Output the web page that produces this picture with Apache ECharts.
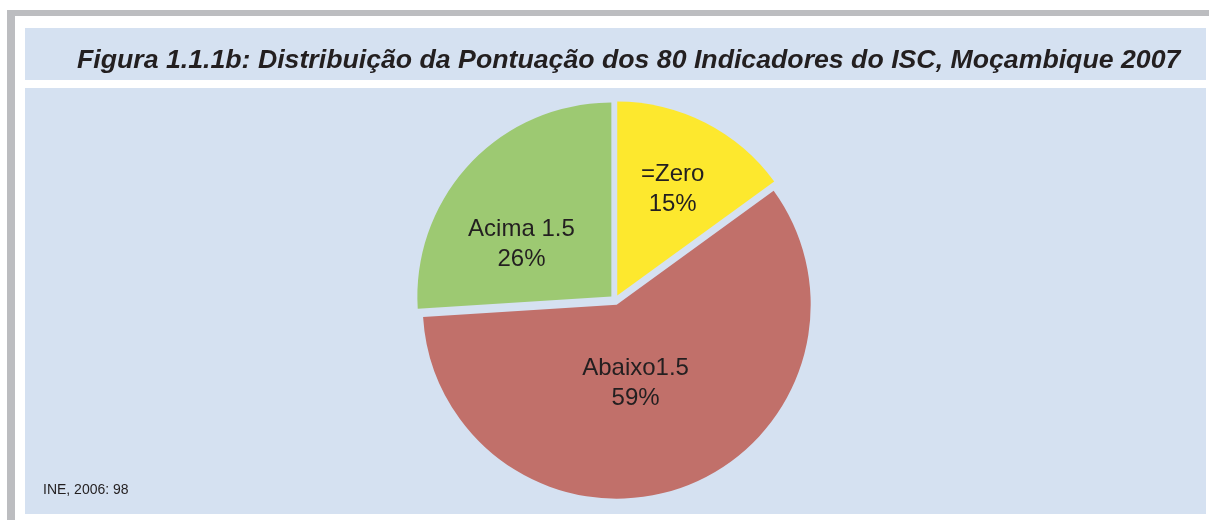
<!DOCTYPE html>
<html>
<head>
<meta charset="utf-8">
<script src="https://cdn.jsdelivr.net/npm/echarts@6/dist/echarts.min.js"></script>
<style>
  html, body { margin: 0; padding: 0; background: #fff; }
  #piechart { width: 1209px; height: 520px; }
</style>
</head>
<body>
<div id="piechart"></div>
<script>
// dados da figura (percentagens)
const categories = ['=Zero', 'Abaixo1.5', 'Acima 1.5']
const values = [15, 59, 26]
const colors = ['#fde82e', '#c1706a', '#9dc972']
// deslocamento do rótulo dentro de cada fatia
const labelOffsets = [[10, -17], [-15, -15], [-17, 16]]

const panelColor = '#d5e1f1'
const frameColor = '#bcbdc0'

const chart = echarts.init(document.getElementById('piechart'))

const option = {
  animation: false,
  title: {
    text: 'Figura 1.1.1b: Distribuição da Pontuação dos 80 Indicadores do ISC, Moçambique 2007',
    left: 72,
    top: 42,
    textStyle: {
      fontFamily: 'Liberation Sans',
      fontStyle: 'italic',
      fontWeight: 'bold',
      fontSize: 26.7,
      color: '#231f20'
    }
  },
  graphic: [
    // moldura cinzenta
    { type: 'rect', z: -10, shape: { x: 7, y: 10, width: 1202, height: 6 }, style: { fill: frameColor } },
    { type: 'rect', z: -10, shape: { x: 7, y: 10, width: 8, height: 510 }, style: { fill: frameColor } },
    // caixa do título
    { type: 'rect', z: -10, shape: { x: 25, y: 28, width: 1181, height: 52 }, style: { fill: panelColor } },
    // área do gráfico
    { type: 'rect', z: -10, shape: { x: 25, y: 88, width: 1181, height: 426 }, style: { fill: panelColor } },
    {
      type: 'text',
      left: 43,
      top: 483,
      style: {
        text: 'INE, 2006: 98',
        fontFamily: 'Liberation Sans',
        fontSize: 14,
        fill: '#231f20'
      }
    }
  ],
  series: [
    {
      name: 'Pontuação',
      type: 'pie',
      center: [615, 300],
      radius: 194,
      startAngle: 90,
      clockwise: true,
      selectedMode: 'multiple',
      selectedOffset: 5,
      emphasis: { disabled: true },
      label: {
        show: true,
        position: 'inner',
        formatter: '{b}\n{d}%',
        fontFamily: 'Liberation Sans',
        fontSize: 24,
        lineHeight: 30,
        color: '#231f20'
      },
      labelLine: { show: false },
      labelLayout: (params) => ({
        dx: labelOffsets[params.dataIndex][0],
        dy: labelOffsets[params.dataIndex][1]
      }),
      data: categories.map((name, i) => ({
        name: name,
        value: values[i],
        selected: true,
        itemStyle: { color: colors[i] }
      }))
    }
  ]
}

chart.setOption(option)
window.onresize = () => {
  chart.resize()
}
</script>
</body>
</html>
